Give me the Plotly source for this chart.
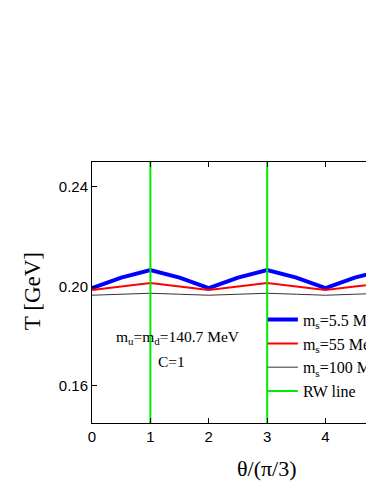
import plotly.graph_objects as go

# Daten
theta = [0, 0.5, 1, 1.5, 2, 2.5, 3, 3.5, 4, 4.5, 5, 5.5, 6]
T_ms55 = [0.1993, 0.2035, 0.2065, 0.2035, 0.1993, 0.2035, 0.2065, 0.2035, 0.1993, 0.2035, 0.2065, 0.2035, 0.1993]
T_ms550 = [0.1985, 0.1999, 0.2013, 0.1999, 0.1985, 0.1999, 0.2013, 0.1999, 0.1985, 0.1999, 0.2013, 0.1999, 0.1985]
T_ms100 = [0.1964, 0.1968, 0.1972, 0.1968, 0.1964, 0.1968, 0.1972, 0.1968, 0.1964, 0.1968, 0.1972, 0.1968, 0.1964]
rw_x = [1, 3, 5]
y_range = [0.145, 0.25]
x_range = [0, 4.83]
y_ticks = [0.16, 0.20, 0.24]
y_ticklabels = ["0.16", "0.20", "0.24"]

serif = "Liberation Serif, Times New Roman, serif"
sans = "Liberation Sans, Arial, sans-serif"

fig = go.Figure()

fig.add_trace(go.Scatter(x=theta, y=T_ms55, mode='lines', name='m<sub>s</sub>=5.5 MeV',
                         line=dict(color='#0000ff', width=4)))
fig.add_trace(go.Scatter(x=theta, y=T_ms550, mode='lines', name='m<sub>s</sub>=55 MeV',
                         line=dict(color='#ff0000', width=2)))
fig.add_trace(go.Scatter(x=theta, y=T_ms100, mode='lines', name='m<sub>s</sub>=100 MeV',
                         line=dict(color='#333333', width=1)))

# RW Linien
rx, ry = [], []
for x in rw_x:
    rx += [x, x, None]
    ry += [y_range[0], y_range[1], None]
fig.add_trace(go.Scatter(x=rx, y=ry, mode='lines', name='RW line',
                         line=dict(color='#00ee00', width=2)))

fig.add_annotation(x=1.48, y=0.1793, text='m<sub>u</sub>=m<sub>d</sub>=140.7 MeV', showarrow=False,
                   font=dict(family=serif, size=15.5, color='black'))
fig.add_annotation(x=1.37, y=0.1697, text='C=1', showarrow=False,
                   font=dict(family=serif, size=15.5, color='black'))

# Achsentitel als Annotation (Original ist rechts abgeschnitten, Titel sitzt weiter rechts)
fig.add_annotation(xref='paper', yref='paper', x=0.62, y=-0.176, text='θ/(π/3)', showarrow=False,
                   xanchor='center', yanchor='middle', font=dict(family=serif, size=22, color='black'))
fig.add_annotation(xref='paper', yref='paper', x=-0.213, y=0.505, text='T [GeV]', showarrow=False,
                   textangle=-90, xanchor='center', yanchor='middle',
                   font=dict(family=serif, size=23, color='black'))

# Seite hat 8px Rand -> Groessen entsprechend kleiner
fig.update_layout(
    width=366, height=476,
    margin=dict(l=84, r=0, t=154, b=61, autoexpand=False),
    plot_bgcolor='white', paper_bgcolor='white',
    showlegend=True,
    legend=dict(x=0.606, y=0.461, xanchor='left', yanchor='top', bgcolor='rgba(0,0,0,0)',
                font=dict(family=serif, size=16, color='black'), tracegroupgap=0),
)

fig.update_xaxes(range=x_range, dtick=1, tick0=0, ticks='inside', ticklen=5, tickcolor='black',
                 showline=True, linecolor='black', linewidth=1, mirror='ticks', showgrid=False,
                 zeroline=False, tickfont=dict(family=sans, size=15, color='black'))
fig.update_yaxes(range=y_range, tickvals=y_ticks, ticktext=y_ticklabels, ticks='inside', ticklen=5,
                 tickcolor='black', showline=True, linecolor='black', linewidth=1, showgrid=False,
                 zeroline=False, tickfont=dict(family=sans, size=15, color='black'))

fig.write_html("out.html")
